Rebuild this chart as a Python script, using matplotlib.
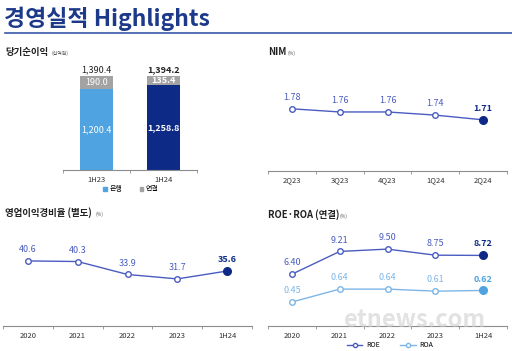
#! /usr/bin/env python3
'''경영실적 Highlights - four small panels'''

import matplotlib
matplotlib.use('Agg')
import matplotlib.pyplot as plt
from matplotlib.lines import Line2D
from matplotlib.patches import Patch

plt.rcParams['font.family'] = ['Noto Sans CJK KR', 'DejaVu Sans']

# data
np_cats = ['1H23', '1H24']
np_bank = [1200.4, 1258.8]
np_total = [1390.4, 1394.2]

nim_cats = ['2Q23', '3Q23', '4Q23', '1Q24', '2Q24']
nim_vals = [1.78, 1.76, 1.76, 1.74, 1.71]

cir_cats = ['2020', '2021', '2022', '2023', '1H24']
cir_vals = [40.6, 40.3, 33.9, 31.7, 35.6]

roe_cats = ['2020', '2021', '2022', '2023', '1H24']
roe_vals = [6.40, 9.21, 9.50, 8.75, 8.72]
roa_vals = [0.45, 0.64, 0.64, 0.61, 0.62]

W, H = 512, 351
NAVY = '#0c2a86'
MID = '#4a5cc0'
LIGHT = '#7db6e6'
LIGHT_DARK = '#4fa3e0'
TITLE = '#1d3a8a'
GRAY = '#8c8c8c'

fig = plt.figure(figsize=(W / 100, H / 100), dpi=100)


def add_ax(x0, y0, x1, y1):
    # pixel box (top-left origin) -> axes
    return fig.add_axes([x0 / W, 1 - y1 / H, (x1 - x0) / W, (y1 - y0) / H])


def ftext(x, y, s, **kw):
    fig.text(x / W, 1 - y / H, s, **kw)


def style_axis(ax, cats):
    ax.set_xlim(-0.5, len(cats) - 0.5)
    for sp in ['top', 'right', 'left']:
        ax.spines[sp].set_visible(False)
    ax.spines['bottom'].set_color(GRAY)
    ax.spines['bottom'].set_linewidth(0.8)
    ax.set_yticks([])
    ax.set_xticks([i - 0.5 for i in range(len(cats) + 1)])
    ax.set_xticklabels([])
    ax.set_xticks(range(len(cats)), minor=True)
    ax.set_xticklabels(cats, minor=True, fontsize=5.5, color='#333333')
    ax.tick_params(axis='x', which='major', length=2.5, color=GRAY, width=0.6)
    ax.tick_params(axis='x', which='minor', length=0, pad=4)
    ax.patch.set_alpha(0)


def line_panel(ax, cats, vals, color, last_color, lblcolor, fmt, off):
    x = range(len(vals))
    ax.plot(x, vals, color=color, lw=1.0, zorder=2)
    ax.plot(list(x)[:-1], vals[:-1], 'o', ms=4, mfc='white', mec=color, mew=1.0, zorder=3)
    ax.plot([len(vals) - 1], [vals[-1]], 'o', ms=5.5, mfc=last_color, mec=last_color, zorder=3)
    for i, v in enumerate(vals):
        last = i == len(vals) - 1
        ax.annotate(fmt.format(v), (i, v), xytext=(0, off), textcoords='offset points',
                    ha='center', va='bottom', fontsize=6.5,
                    color=(last_color if last else lblcolor),
                    fontweight=('bold' if last else 'normal'))


# main title
ftext(4, 19, '경영실적 Highlights', fontsize=16.5, fontweight='bold', color=TITLE, va='center')
fig.add_artist(Line2D([5 / W, 1], [1 - 33 / H] * 2, color='#3a56a8', lw=1.2))

# panel 1: net income
ftext(5, 52, '당기순이익', fontsize=6.8, fontweight='bold', color='#222222', va='center')
ftext(52, 53, '(십억원)', fontsize=3.5, color='#555555', va='center')
ax1 = add_ax(63, 60, 197, 170)
style_axis(ax1, np_cats)
ax1.set_ylim(0, 1630)
bank_cols = [LIGHT_DARK, NAVY]
ax1.bar(range(2), np_bank, width=0.5, color=bank_cols, zorder=2)
ax1.bar(range(2), [t - b for t, b in zip(np_total, np_bank)], bottom=np_bank,
        width=0.5, color='#a3a3a3', zorder=2)
for i in range(2):
    bold = 'bold' if i == 1 else 'normal'
    ax1.text(i, np_bank[i] / 2, '{:,.1f}'.format(np_bank[i]), ha='center', va='center',
             fontsize=6.5, color='white', fontweight=bold)
    ax1.text(i, (np_bank[i] + np_total[i]) / 2, '{:,.1f}'.format(np_total[i] - np_bank[i]),
             ha='center', va='center', fontsize=6.5, color='white', fontweight=bold)
    ax1.text(i, np_total[i] + 25, '{:,.1f}'.format(np_total[i]), ha='center', va='bottom',
             fontsize=6.5, color='#222222', fontweight=bold)
fig.legend(handles=[Patch(color=LIGHT_DARK, label='은행'), Patch(color='#a3a3a3', label='연결')],
           loc='center', bbox_to_anchor=(131 / W, 1 - 189 / H), ncol=2, frameon=False,
           fontsize=5, handlelength=0.5, handleheight=0.5, columnspacing=2.5, handletextpad=0.4)

# panel 2: NIM
ftext(268, 52, 'NIM', fontsize=6.8, fontweight='bold', color='#222222', va='center')
ftext(288, 53, '(%)', fontsize=3.5, color='#555555', va='center')
ax2 = add_ax(268, 60, 507, 171)
style_axis(ax2, nim_cats)
ax2.set_ylim(1.385, 2.09)
line_panel(ax2, nim_cats, nim_vals, MID, NAVY, MID, '{:.2f}', 5)

# panel 3: cost income ratio
ftext(5, 213, '영업이익경비율 (별도)', fontsize=6.8, fontweight='bold', color='#222222', va='center')
ftext(96, 214, '(%)', fontsize=3.5, color='#555555', va='center')
ax3 = add_ax(3, 230, 252, 326)
style_axis(ax3, cir_cats)
ax3.set_ylim(8.4, 55.9)
line_panel(ax3, cir_cats, cir_vals, MID, NAVY, MID, '{:.1f}', 5)

# panel 4: ROE / ROA
ftext(268, 215, 'ROE·ROA (연결)', fontsize=6.8, fontweight='bold', color='#222222', va='center')
ftext(339, 216, '(%)', fontsize=3.5, color='#555555', va='center')
ax4 = add_ax(268, 230, 507, 326)
style_axis(ax4, roe_cats)
ax4.set_ylim(0, 11.86)
line_panel(ax4, roe_cats, roe_vals, MID, NAVY, MID, '{:.2f}', 5)
ax5 = ax4.twinx()
ax5.set_ylim(0.097, 1.51)
ax5.axis('off')
line_panel(ax5, roe_cats, roa_vals, LIGHT, LIGHT_DARK, LIGHT, '{:.2f}', 5)
fig.legend(handles=[Line2D([], [], color=MID, marker='o', ms=3, mfc='white', mec=MID, lw=1, label='ROE'),
                    Line2D([], [], color=LIGHT, marker='o', ms=3, mfc='white', mec=LIGHT, lw=1, label='ROA')],
           loc='center', bbox_to_anchor=(390 / W, 1 - 345 / H), ncol=2, frameon=False,
           fontsize=5, handlelength=2.2, columnspacing=3, handletextpad=0.5)

# watermark
ftext(415, 320, 'etnews.com', fontsize=17, fontweight='bold', color='#cfcfcf',
      alpha=0.6, ha='center', va='center', zorder=0)

fig.savefig('out.png', dpi=100)
